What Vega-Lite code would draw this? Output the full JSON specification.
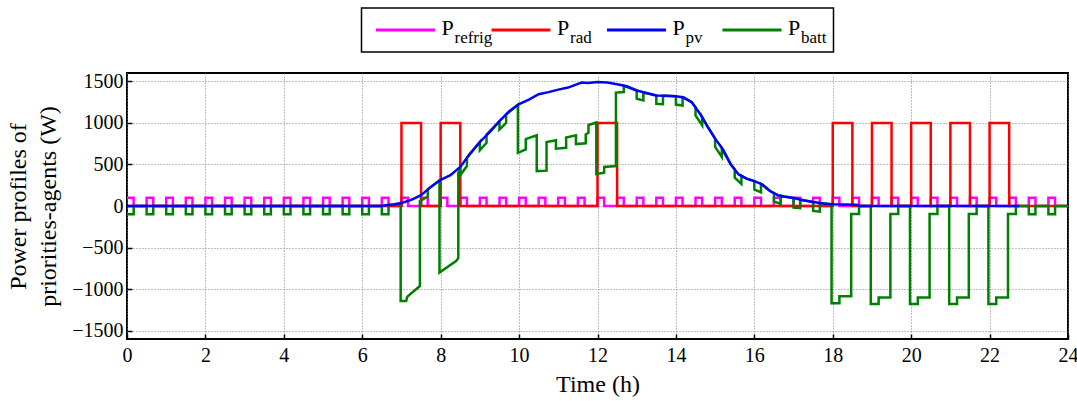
{
  "$schema": "https://vega.github.io/schema/vega-lite/v6.json",
  "background": "white",
  "padding": {"left": 5, "top": 7, "right": 2, "bottom": 2},
  "config": {
    "font": "Liberation Serif",
    "view": {"stroke": "black", "strokeWidth": 2},
    "axis": {
      "labelFont": "Liberation Serif",
      "labelFontSize": 20,
      "labelColor": "black",
      "labelFlush": false,
      "titleFont": "Liberation Serif",
      "titleFontSize": 24,
      "titleFontWeight": "normal",
      "titleColor": "black",
      "grid": true,
      "gridColor": "#808080",
      "gridDash": [1, 2],
      "gridWidth": 1,
      "domain": false,
      "tickColor": "black",
      "tickWidth": 1.5,
      "tickSize": -5,
      "labelPadding": 9
    }
  },
  "datasets": {
    "power": [
      {"series": "refrig", "t": 0, "P": 100}, {"series": "refrig", "t": 0.17, "P": 0},
      {"series": "refrig", "t": 0.5, "P": 100}, {"series": "refrig", "t": 0.67, "P": 0},
      {"series": "refrig", "t": 1, "P": 100}, {"series": "refrig", "t": 1.17, "P": 0},
      {"series": "refrig", "t": 1.5, "P": 100}, {"series": "refrig", "t": 1.67, "P": 0},
      {"series": "refrig", "t": 2, "P": 100}, {"series": "refrig", "t": 2.17, "P": 0},
      {"series": "refrig", "t": 2.5, "P": 100}, {"series": "refrig", "t": 2.67, "P": 0},
      {"series": "refrig", "t": 3, "P": 100}, {"series": "refrig", "t": 3.17, "P": 0},
      {"series": "refrig", "t": 3.5, "P": 100}, {"series": "refrig", "t": 3.67, "P": 0},
      {"series": "refrig", "t": 4, "P": 100}, {"series": "refrig", "t": 4.17, "P": 0},
      {"series": "refrig", "t": 4.5, "P": 100}, {"series": "refrig", "t": 4.67, "P": 0},
      {"series": "refrig", "t": 5, "P": 100}, {"series": "refrig", "t": 5.17, "P": 0},
      {"series": "refrig", "t": 5.5, "P": 100}, {"series": "refrig", "t": 5.67, "P": 0},
      {"series": "refrig", "t": 6, "P": 100}, {"series": "refrig", "t": 6.17, "P": 0},
      {"series": "refrig", "t": 6.5, "P": 100}, {"series": "refrig", "t": 6.67, "P": 0},
      {"series": "refrig", "t": 7, "P": 100}, {"series": "refrig", "t": 7.17, "P": 0},
      {"series": "refrig", "t": 7.5, "P": 100}, {"series": "refrig", "t": 7.67, "P": 0},
      {"series": "refrig", "t": 8, "P": 100}, {"series": "refrig", "t": 8.17, "P": 0},
      {"series": "refrig", "t": 8.5, "P": 100}, {"series": "refrig", "t": 8.67, "P": 0},
      {"series": "refrig", "t": 9, "P": 100}, {"series": "refrig", "t": 9.17, "P": 0},
      {"series": "refrig", "t": 9.5, "P": 100}, {"series": "refrig", "t": 9.67, "P": 0},
      {"series": "refrig", "t": 10, "P": 100}, {"series": "refrig", "t": 10.17, "P": 0},
      {"series": "refrig", "t": 10.5, "P": 100}, {"series": "refrig", "t": 10.67, "P": 0},
      {"series": "refrig", "t": 11, "P": 100}, {"series": "refrig", "t": 11.17, "P": 0},
      {"series": "refrig", "t": 11.5, "P": 100}, {"series": "refrig", "t": 11.67, "P": 0},
      {"series": "refrig", "t": 12, "P": 100}, {"series": "refrig", "t": 12.17, "P": 0},
      {"series": "refrig", "t": 12.5, "P": 100}, {"series": "refrig", "t": 12.67, "P": 0},
      {"series": "refrig", "t": 13, "P": 100}, {"series": "refrig", "t": 13.17, "P": 0},
      {"series": "refrig", "t": 13.5, "P": 100}, {"series": "refrig", "t": 13.67, "P": 0},
      {"series": "refrig", "t": 14, "P": 100}, {"series": "refrig", "t": 14.17, "P": 0},
      {"series": "refrig", "t": 14.5, "P": 100}, {"series": "refrig", "t": 14.67, "P": 0},
      {"series": "refrig", "t": 15, "P": 100}, {"series": "refrig", "t": 15.17, "P": 0},
      {"series": "refrig", "t": 15.5, "P": 100}, {"series": "refrig", "t": 15.67, "P": 0},
      {"series": "refrig", "t": 16, "P": 100}, {"series": "refrig", "t": 16.17, "P": 0},
      {"series": "refrig", "t": 16.5, "P": 100}, {"series": "refrig", "t": 16.67, "P": 0},
      {"series": "refrig", "t": 17, "P": 100}, {"series": "refrig", "t": 17.17, "P": 0},
      {"series": "refrig", "t": 17.5, "P": 100}, {"series": "refrig", "t": 17.67, "P": 0},
      {"series": "refrig", "t": 18, "P": 100}, {"series": "refrig", "t": 18.17, "P": 0},
      {"series": "refrig", "t": 18.5, "P": 100}, {"series": "refrig", "t": 18.67, "P": 0},
      {"series": "refrig", "t": 19, "P": 100}, {"series": "refrig", "t": 19.17, "P": 0},
      {"series": "refrig", "t": 19.5, "P": 100}, {"series": "refrig", "t": 19.67, "P": 0},
      {"series": "refrig", "t": 20, "P": 100}, {"series": "refrig", "t": 20.17, "P": 0},
      {"series": "refrig", "t": 20.5, "P": 100}, {"series": "refrig", "t": 20.67, "P": 0},
      {"series": "refrig", "t": 21, "P": 100}, {"series": "refrig", "t": 21.17, "P": 0},
      {"series": "refrig", "t": 21.5, "P": 100}, {"series": "refrig", "t": 21.67, "P": 0},
      {"series": "refrig", "t": 22, "P": 100}, {"series": "refrig", "t": 22.17, "P": 0},
      {"series": "refrig", "t": 22.5, "P": 100}, {"series": "refrig", "t": 22.67, "P": 0},
      {"series": "refrig", "t": 23, "P": 100}, {"series": "refrig", "t": 23.17, "P": 0},
      {"series": "refrig", "t": 23.5, "P": 100}, {"series": "refrig", "t": 23.67, "P": 0},
      {"series": "refrig", "t": 24, "P": 0},

      {"series": "rad", "t": 0, "P": 0}, {"series": "rad", "t": 7, "P": 1000},
      {"series": "rad", "t": 7.5, "P": 0}, {"series": "rad", "t": 8, "P": 1000},
      {"series": "rad", "t": 8.5, "P": 0}, {"series": "rad", "t": 12, "P": 1000},
      {"series": "rad", "t": 12.5, "P": 0}, {"series": "rad", "t": 18, "P": 1000},
      {"series": "rad", "t": 18.5, "P": 0}, {"series": "rad", "t": 19, "P": 1000},
      {"series": "rad", "t": 19.5, "P": 0}, {"series": "rad", "t": 20, "P": 1000},
      {"series": "rad", "t": 20.5, "P": 0}, {"series": "rad", "t": 21, "P": 1000},
      {"series": "rad", "t": 21.5, "P": 0}, {"series": "rad", "t": 22, "P": 1000},
      {"series": "rad", "t": 22.5, "P": 0}, {"series": "rad", "t": 24, "P": 0},

      {"series": "pv", "t": 0, "P": 0}, {"series": "pv", "t": 6.5, "P": 0},
      {"series": "pv", "t": 6.6, "P": 8}, {"series": "pv", "t": 6.8, "P": 18},
      {"series": "pv", "t": 7, "P": 35}, {"series": "pv", "t": 7.25, "P": 75},
      {"series": "pv", "t": 7.5, "P": 131}, {"series": "pv", "t": 7.75, "P": 230},
      {"series": "pv", "t": 8, "P": 315}, {"series": "pv", "t": 8.25, "P": 370},
      {"series": "pv", "t": 8.5, "P": 470}, {"series": "pv", "t": 8.75, "P": 630},
      {"series": "pv", "t": 9, "P": 770}, {"series": "pv", "t": 9.25, "P": 890},
      {"series": "pv", "t": 9.5, "P": 1020}, {"series": "pv", "t": 9.75, "P": 1140},
      {"series": "pv", "t": 10, "P": 1226}, {"series": "pv", "t": 10.25, "P": 1280},
      {"series": "pv", "t": 10.5, "P": 1345}, {"series": "pv", "t": 10.75, "P": 1370},
      {"series": "pv", "t": 11, "P": 1400}, {"series": "pv", "t": 11.25, "P": 1425},
      {"series": "pv", "t": 11.5, "P": 1470}, {"series": "pv", "t": 11.6, "P": 1485},
      {"series": "pv", "t": 11.75, "P": 1480}, {"series": "pv", "t": 12, "P": 1492},
      {"series": "pv", "t": 12.25, "P": 1485}, {"series": "pv", "t": 12.5, "P": 1465},
      {"series": "pv", "t": 12.75, "P": 1440}, {"series": "pv", "t": 13, "P": 1390},
      {"series": "pv", "t": 13.25, "P": 1360}, {"series": "pv", "t": 13.5, "P": 1330},
      {"series": "pv", "t": 13.75, "P": 1325}, {"series": "pv", "t": 14, "P": 1320},
      {"series": "pv", "t": 14.2, "P": 1305}, {"series": "pv", "t": 14.4, "P": 1250},
      {"series": "pv", "t": 14.6, "P": 1120}, {"series": "pv", "t": 14.8, "P": 960},
      {"series": "pv", "t": 15, "P": 810}, {"series": "pv", "t": 15.2, "P": 680},
      {"series": "pv", "t": 15.4, "P": 500}, {"series": "pv", "t": 15.6, "P": 380},
      {"series": "pv", "t": 15.8, "P": 330}, {"series": "pv", "t": 16, "P": 300},
      {"series": "pv", "t": 16.2, "P": 260}, {"series": "pv", "t": 16.4, "P": 180},
      {"series": "pv", "t": 16.6, "P": 130}, {"series": "pv", "t": 16.8, "P": 110},
      {"series": "pv", "t": 17, "P": 95}, {"series": "pv", "t": 17.25, "P": 70},
      {"series": "pv", "t": 17.5, "P": 48}, {"series": "pv", "t": 17.75, "P": 30},
      {"series": "pv", "t": 18, "P": 20}, {"series": "pv", "t": 18.6, "P": 15},
      {"series": "pv", "t": 18.7, "P": 0}, {"series": "pv", "t": 22.75, "P": 0},

      {"series": "batt", "t": 0, "P": -100}, {"series": "batt", "t": 0.17, "P": -100}, {"series": "batt", "t": 0.17, "P": 0},
      {"series": "batt", "t": 0.5, "P": 0}, {"series": "batt", "t": 0.5, "P": -100}, {"series": "batt", "t": 0.67, "P": -100}, {"series": "batt", "t": 0.67, "P": 0},
      {"series": "batt", "t": 1, "P": 0}, {"series": "batt", "t": 1, "P": -100}, {"series": "batt", "t": 1.17, "P": -100}, {"series": "batt", "t": 1.17, "P": 0},
      {"series": "batt", "t": 1.5, "P": 0}, {"series": "batt", "t": 1.5, "P": -100}, {"series": "batt", "t": 1.67, "P": -100}, {"series": "batt", "t": 1.67, "P": 0},
      {"series": "batt", "t": 2, "P": 0}, {"series": "batt", "t": 2, "P": -100}, {"series": "batt", "t": 2.17, "P": -100}, {"series": "batt", "t": 2.17, "P": 0},
      {"series": "batt", "t": 2.5, "P": 0}, {"series": "batt", "t": 2.5, "P": -100}, {"series": "batt", "t": 2.67, "P": -100}, {"series": "batt", "t": 2.67, "P": 0},
      {"series": "batt", "t": 3, "P": 0}, {"series": "batt", "t": 3, "P": -100}, {"series": "batt", "t": 3.17, "P": -100}, {"series": "batt", "t": 3.17, "P": 0},
      {"series": "batt", "t": 3.5, "P": 0}, {"series": "batt", "t": 3.5, "P": -100}, {"series": "batt", "t": 3.67, "P": -100}, {"series": "batt", "t": 3.67, "P": 0},
      {"series": "batt", "t": 4, "P": 0}, {"series": "batt", "t": 4, "P": -100}, {"series": "batt", "t": 4.17, "P": -100}, {"series": "batt", "t": 4.17, "P": 0},
      {"series": "batt", "t": 4.5, "P": 0}, {"series": "batt", "t": 4.5, "P": -100}, {"series": "batt", "t": 4.67, "P": -100}, {"series": "batt", "t": 4.67, "P": 0},
      {"series": "batt", "t": 5, "P": 0}, {"series": "batt", "t": 5, "P": -100}, {"series": "batt", "t": 5.17, "P": -100}, {"series": "batt", "t": 5.17, "P": 0},
      {"series": "batt", "t": 5.5, "P": 0}, {"series": "batt", "t": 5.5, "P": -100}, {"series": "batt", "t": 5.67, "P": -100}, {"series": "batt", "t": 5.67, "P": 0},
      {"series": "batt", "t": 6, "P": 0}, {"series": "batt", "t": 6, "P": -100}, {"series": "batt", "t": 6.17, "P": -100}, {"series": "batt", "t": 6.17, "P": 0},
      {"series": "batt", "t": 6.5, "P": 0}, {"series": "batt", "t": 6.5, "P": -100}, {"series": "batt", "t": 6.67, "P": -100}, {"series": "batt", "t": 6.67, "P": 12},
      {"series": "batt", "t": 6.98, "P": 30}, {"series": "batt", "t": 6.98, "P": -1142}, {"series": "batt", "t": 7.12, "P": -1142},
      {"series": "batt", "t": 7.15, "P": -1090}, {"series": "batt", "t": 7.47, "P": -963}, {"series": "batt", "t": 7.47, "P": 60},
      {"series": "batt", "t": 7.67, "P": 110}, {"series": "batt", "t": 7.67, "P": 200}, {"series": "batt", "t": 7.97, "P": 310},
      {"series": "batt", "t": 7.97, "P": -800}, {"series": "batt", "t": 8.4, "P": -660}, {"series": "batt", "t": 8.45, "P": -624},
      {"series": "batt", "t": 8.45, "P": 400}, {"series": "batt", "t": 8.5, "P": 440}, {"series": "batt", "t": 8.5, "P": 370},
      {"series": "batt", "t": 8.67, "P": 480}, {"series": "batt", "t": 8.67, "P": 580}, {"series": "batt", "t": 9, "P": 770},
      {"series": "batt", "t": 9, "P": 670}, {"series": "batt", "t": 9.17, "P": 760}, {"series": "batt", "t": 9.17, "P": 860},
      {"series": "batt", "t": 9.5, "P": 1020}, {"series": "batt", "t": 9.5, "P": 920}, {"series": "batt", "t": 9.67, "P": 1000},
      {"series": "batt", "t": 9.67, "P": 1100}, {"series": "batt", "t": 9.97, "P": 1220}, {"series": "batt", "t": 9.97, "P": 640},
      {"series": "batt", "t": 10.17, "P": 680}, {"series": "batt", "t": 10.17, "P": 805}, {"series": "batt", "t": 10.45, "P": 850},
      {"series": "batt", "t": 10.45, "P": 420}, {"series": "batt", "t": 10.7, "P": 425}, {"series": "batt", "t": 10.7, "P": 770},
      {"series": "batt", "t": 10.94, "P": 790}, {"series": "batt", "t": 10.94, "P": 690}, {"series": "batt", "t": 11.2, "P": 700},
      {"series": "batt", "t": 11.2, "P": 825}, {"series": "batt", "t": 11.45, "P": 850}, {"series": "batt", "t": 11.45, "P": 745},
      {"series": "batt", "t": 11.7, "P": 755}, {"series": "batt", "t": 11.7, "P": 860}, {"series": "batt", "t": 11.77, "P": 880},
      {"series": "batt", "t": 11.77, "P": 975}, {"series": "batt", "t": 11.97, "P": 1005}, {"series": "batt", "t": 11.97, "P": 385},
      {"series": "batt", "t": 12.17, "P": 400}, {"series": "batt", "t": 12.17, "P": 470}, {"series": "batt", "t": 12.47, "P": 480},
      {"series": "batt", "t": 12.47, "P": 1364}, {"series": "batt", "t": 12.67, "P": 1370}, {"series": "batt", "t": 12.67, "P": 1445},
      {"series": "batt", "t": 13, "P": 1390}, {"series": "batt", "t": 13, "P": 1290}, {"series": "batt", "t": 13.17, "P": 1270},
      {"series": "batt", "t": 13.17, "P": 1365}, {"series": "batt", "t": 13.5, "P": 1330}, {"series": "batt", "t": 13.5, "P": 1230},
      {"series": "batt", "t": 13.67, "P": 1226}, {"series": "batt", "t": 13.67, "P": 1326}, {"series": "batt", "t": 14, "P": 1320},
      {"series": "batt", "t": 14, "P": 1220}, {"series": "batt", "t": 14.17, "P": 1208}, {"series": "batt", "t": 14.17, "P": 1308},
      {"series": "batt", "t": 14.4, "P": 1250}, {"series": "batt", "t": 14.5, "P": 1190}, {"series": "batt", "t": 14.5, "P": 1090},
      {"series": "batt", "t": 14.67, "P": 970}, {"series": "batt", "t": 14.67, "P": 1070}, {"series": "batt", "t": 14.8, "P": 960},
      {"series": "batt", "t": 15, "P": 810}, {"series": "batt", "t": 15, "P": 710}, {"series": "batt", "t": 15.17, "P": 590},
      {"series": "batt", "t": 15.17, "P": 690}, {"series": "batt", "t": 15.4, "P": 500}, {"series": "batt", "t": 15.5, "P": 440},
      {"series": "batt", "t": 15.5, "P": 340}, {"series": "batt", "t": 15.67, "P": 265}, {"series": "batt", "t": 15.67, "P": 365},
      {"series": "batt", "t": 15.8, "P": 330}, {"series": "batt", "t": 16, "P": 300}, {"series": "batt", "t": 16, "P": 200},
      {"series": "batt", "t": 16.17, "P": 165}, {"series": "batt", "t": 16.17, "P": 265}, {"series": "batt", "t": 16.4, "P": 180},
      {"series": "batt", "t": 16.5, "P": 155}, {"series": "batt", "t": 16.5, "P": 55}, {"series": "batt", "t": 16.67, "P": 25},
      {"series": "batt", "t": 16.67, "P": 125}, {"series": "batt", "t": 16.8, "P": 110}, {"series": "batt", "t": 17, "P": 95},
      {"series": "batt", "t": 17, "P": -20}, {"series": "batt", "t": 17.17, "P": -25}, {"series": "batt", "t": 17.17, "P": 75},
      {"series": "batt", "t": 17.5, "P": 48}, {"series": "batt", "t": 17.5, "P": -60}, {"series": "batt", "t": 17.67, "P": -68},
      {"series": "batt", "t": 17.67, "P": 38}, {"series": "batt", "t": 17.97, "P": 20}, {"series": "batt", "t": 17.97, "P": -1170},
      {"series": "batt", "t": 18.17, "P": -1170}, {"series": "batt", "t": 18.17, "P": -1085}, {"series": "batt", "t": 18.47, "P": -1085},
      {"series": "batt", "t": 18.47, "P": -95}, {"series": "batt", "t": 18.67, "P": -95}, {"series": "batt", "t": 18.67, "P": 0},
      {"series": "batt", "t": 18.97, "P": 0}, {"series": "batt", "t": 18.97, "P": -1180}, {"series": "batt", "t": 19.17, "P": -1180},
      {"series": "batt", "t": 19.17, "P": -1100}, {"series": "batt", "t": 19.47, "P": -1100}, {"series": "batt", "t": 19.47, "P": -95},
      {"series": "batt", "t": 19.67, "P": -95}, {"series": "batt", "t": 19.67, "P": 0}, {"series": "batt", "t": 19.97, "P": 0},
      {"series": "batt", "t": 19.97, "P": -1180}, {"series": "batt", "t": 20.17, "P": -1180}, {"series": "batt", "t": 20.17, "P": -1100},
      {"series": "batt", "t": 20.47, "P": -1100}, {"series": "batt", "t": 20.47, "P": -95}, {"series": "batt", "t": 20.67, "P": -95},
      {"series": "batt", "t": 20.67, "P": 0}, {"series": "batt", "t": 20.97, "P": 0}, {"series": "batt", "t": 20.97, "P": -1180},
      {"series": "batt", "t": 21.17, "P": -1180}, {"series": "batt", "t": 21.17, "P": -1100}, {"series": "batt", "t": 21.47, "P": -1100},
      {"series": "batt", "t": 21.47, "P": -95}, {"series": "batt", "t": 21.67, "P": -95}, {"series": "batt", "t": 21.67, "P": 0},
      {"series": "batt", "t": 21.97, "P": 0}, {"series": "batt", "t": 21.97, "P": -1180}, {"series": "batt", "t": 22.17, "P": -1180},
      {"series": "batt", "t": 22.17, "P": -1100}, {"series": "batt", "t": 22.47, "P": -1100}, {"series": "batt", "t": 22.47, "P": -95},
      {"series": "batt", "t": 22.67, "P": -95}, {"series": "batt", "t": 22.67, "P": 0}, {"series": "batt", "t": 23, "P": 0},
      {"series": "batt", "t": 23, "P": -100}, {"series": "batt", "t": 23.17, "P": -100}, {"series": "batt", "t": 23.17, "P": 0},
      {"series": "batt", "t": 23.5, "P": 0}, {"series": "batt", "t": 23.5, "P": -100}, {"series": "batt", "t": 23.67, "P": -100},
      {"series": "batt", "t": 23.67, "P": 0}, {"series": "batt", "t": 24, "P": 0}
    ]
  },
  "vconcat": [
    {
      "width": 472,
      "height": 44,
      "view": {"stroke": "black", "strokeWidth": 1.5},
      "data": {"name": "power"},
      "transform": [{"aggregate": [{"op": "count", "as": "n"}], "groupby": ["series"]}],
      "encoding": {
        "x": {
          "field": "series",
          "type": "nominal",
          "scale": {"type": "point", "domain": ["refrig", "rad", "pv", "batt"], "padding": 0.5433, "align": 0.3506},
          "axis": null
        }
      },
      "layer": [
        {
          "mark": {"type": "point", "shape": "stroke", "size": 3481, "strokeWidth": 3, "filled": false, "opacity": 1},
          "encoding": {"color": {"field": "series", "type": "nominal", "legend": null}}
        },
        {
          "mark": {"type": "text", "text": "P", "align": "left", "baseline": "alphabetic", "dx": 36, "dy": 5, "fontSize": 22, "font": "Liberation Serif", "color": "black"}
        },
        {
          "mark": {"type": "text", "align": "left", "baseline": "alphabetic", "dx": 49, "dy": 13, "fontSize": 17, "font": "Liberation Serif", "color": "black"},
          "encoding": {"text": {"field": "series"}}
        }
      ]
    },
    {
      "width": 941,
      "height": 266,
      "data": {"name": "power"},
      "encoding": {
        "x": {
          "field": "t",
          "type": "quantitative",
          "scale": {"domain": [0, 24], "nice": false},
          "axis": {
            "values": [0, 2, 4, 6, 8, 10, 12, 14, 16, 18, 20, 22, 24],
            "format": "d",
            "labelFont": "Liberation Serif",
            "labelFontSize": 20,
            "labelFlush": false,
            "labelPadding": 11,
            "title": "Time (h)",
            "titlePadding": 7
          }
        },
        "y": {
          "field": "P",
          "type": "quantitative",
          "scale": {"domain": [-1600, 1600], "nice": false},
          "axis": {
            "values": [-1500, -1000, -500, 0, 500, 1000, 1500],
            "format": "d",
            "labelFont": "Liberation Serif",
            "labelFontSize": 20,
            "labelFlush": false,
            "title": ["Power profiles of", "priorities-agents (W)"],
            "titleLineHeight": 30,
            "titlePadding": 11
          }
        },
        "color": {
          "field": "series",
          "type": "nominal",
          "scale": {"domain": ["refrig", "rad", "pv", "batt"], "range": ["#ff00ff", "#ff0000", "#0000ff", "#008000"]},
          "legend": null
        }
      },
      "layer": [
        {
          "transform": [{"filter": "datum.series === 'refrig'"}],
          "mark": {"type": "line", "interpolate": "step-after", "strokeWidth": 2.5}
        },
        {
          "transform": [{"filter": "datum.series === 'rad'"}],
          "mark": {"type": "line", "interpolate": "step-after", "strokeWidth": 2.5}
        },
        {
          "transform": [{"filter": "datum.series === 'batt'"}],
          "mark": {"type": "line", "strokeWidth": 2.5}
        },
        {
          "transform": [{"filter": "datum.series === 'pv'"}],
          "mark": {"type": "line", "strokeWidth": 2.5}
        }
      ]
    }
  ],
  "spacing": 21,
  "bounds": "flush",
  "center": true,
  "resolve": {"scale": {"x": "independent", "y": "independent", "color": "shared"}}
}
